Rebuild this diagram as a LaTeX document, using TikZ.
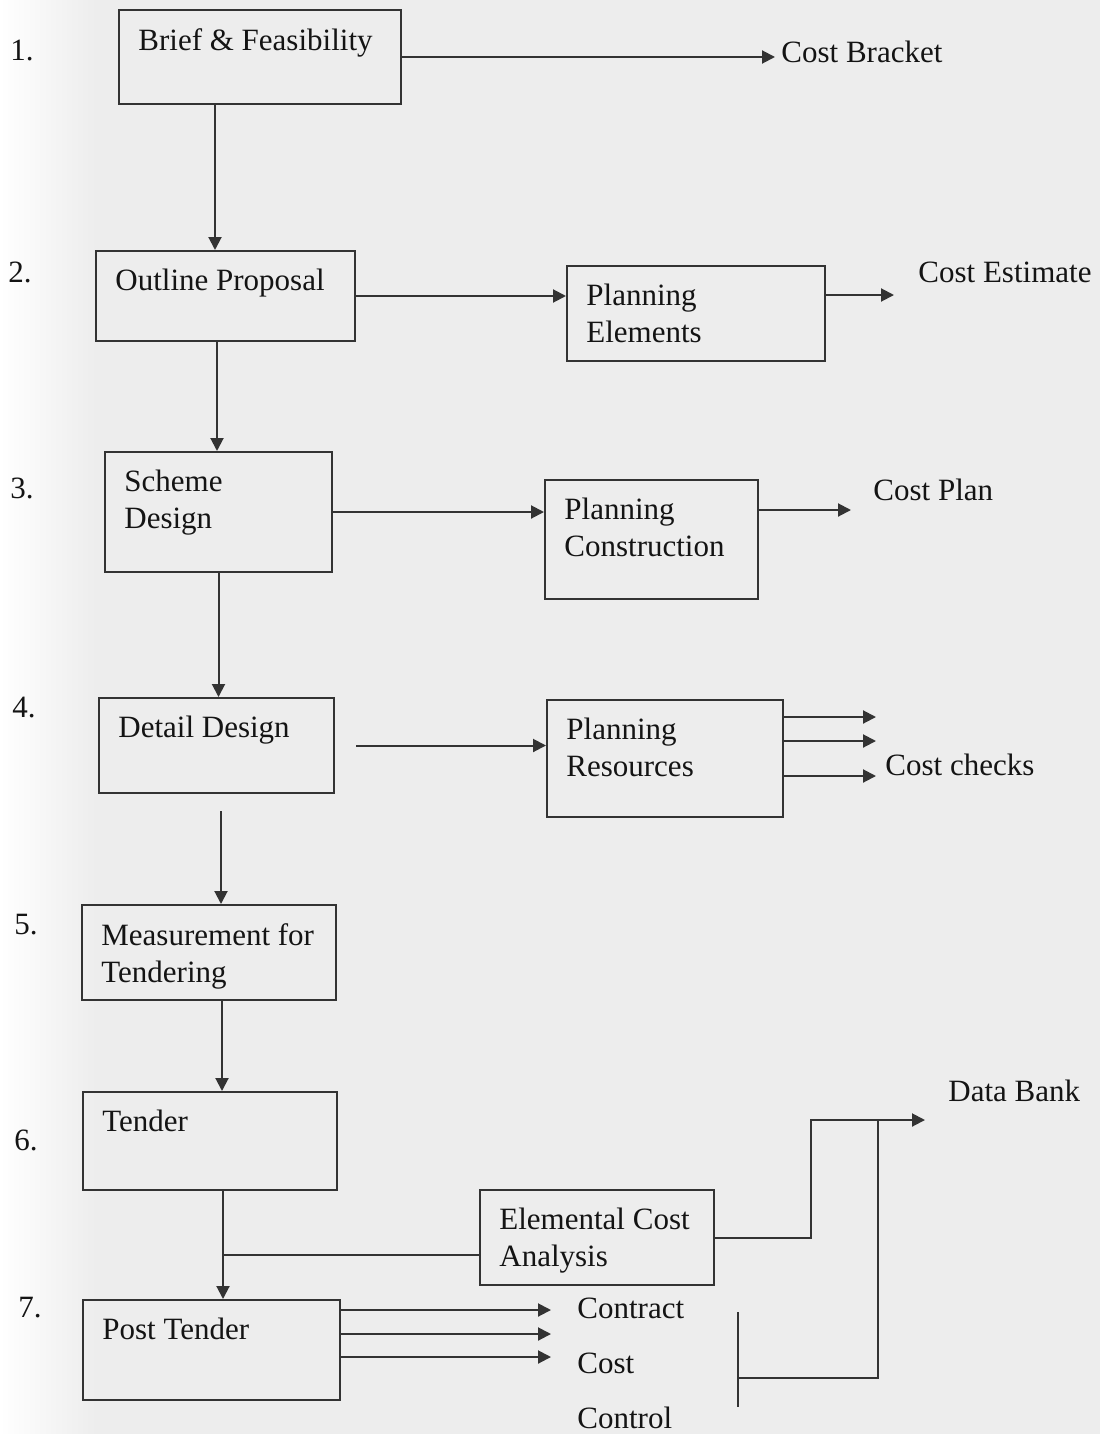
\documentclass[tikz,border=0pt]{standalone}
\usepackage{fontspec}
\setmainfont{Liberation Serif}
\usetikzlibrary{arrows.meta,calc}

\tikzset{
  stage/.style={draw=black!80, line width=1pt, inner sep=0pt},
  stagetext/.style={anchor=north west, inner sep=0pt, align=left,
    xshift=10pt, yshift=-9.4pt, text=black!92,
    font=\fontsize{15.5}{18.5}\selectfont},
  outtext/.style={anchor=west, inner sep=0pt, text=black!92,
    font=\fontsize{15.5}{18.5}\selectfont},
  flow/.style={draw=black!80, line width=1pt, -{Triangle[length=6.5pt,width=6.5pt]}},
  plain/.style={draw=black!80, line width=1pt},
}

\begin{document}
\begin{tikzpicture}[x=0.5pt, y=-0.5pt]
    \useasboundingbox (0,0) rectangle (1100,1434);
    \fill[black!7] (0,0) rectangle (1100,1434);
    \shade[left color=white, right color=black!7] (0,0) rectangle (95,1434);

    % stage numbers
    \node[outtext] (n1) at (10,  50) {1.};
    \node[outtext] (n2) at (8,  272) {2.};
    \node[outtext] (n3) at (10, 488) {3.};
    \node[outtext] (n4) at (12, 708) {4.};
    \node[outtext] (n5) at (14, 925) {5.};
    \node[outtext] (n6) at (14,1140) {6.};
    \node[outtext] (n7) at (18,1308) {7.};

    % main stages
    \node[stage, minimum width=141pt, minimum height=47pt,
      label={[stagetext]north west:Brief \& Feasibility}] (brief) at (260,57) {};
    \node[stage, minimum width=129.5pt, minimum height=45pt,
      label={[stagetext]north west:Outline Proposal}] (outline) at (225.5,296) {};
    \node[stage, minimum width=113.5pt, minimum height=60pt,
      label={[stagetext]north west:Scheme\\Design}] (scheme) at (218.5,512) {};
    \node[stage, minimum width=117.5pt, minimum height=47.5pt,
      label={[stagetext]north west:Detail Design}] (detail) at (216.5,745.5) {};
    \node[stage, minimum width=127pt, minimum height=47.5pt,
      label={[stagetext]north west:Measurement for\\Tendering}] (measure) at (209,952.5) {};
    \node[stage, minimum width=127pt, minimum height=49pt,
      label={[stagetext]north west:Tender}] (tender) at (210,1141) {};
    \node[stage, minimum width=128.5pt, minimum height=50pt,
      label={[stagetext]north west:Post Tender}] (post) at (211.5,1350) {};

    % planning boxes
    \node[stage, minimum width=129pt, minimum height=47.5pt,
      label={[stagetext]north west:Planning\\Elements}] (elements) at (696,313.5) {};
    \node[stage, minimum width=106.5pt, minimum height=59.5pt,
      label={[stagetext]north west:Planning\\Construction}] (construct) at (651.5,539.5) {};
    \node[stage, minimum width=118pt, minimum height=58.5pt,
      label={[stagetext]north west:Planning\\Resources}] (resources) at (665,758.5) {};
    \node[stage, minimum width=117pt, minimum height=47.5pt,
      label={[stagetext]north west:Elemental Cost\\Analysis}] (analysis) at (597,1237.5) {};

    % outputs
    \node[outtext] (bracket)  at (781,  52) {Cost Bracket};
    \node[outtext] (estimate) at (918, 272) {Cost Estimate};
    \node[outtext] (costplan) at (873, 490) {Cost Plan};
    \node[outtext] (checks)   at (885, 765) {Cost checks};
    \node[outtext] (databank) at (948,1091) {Data Bank};
    \node[outtext] (contract) at (577,1308) {Contract};
    \node[outtext] (cost)     at (577,1363) {Cost};
    \node[outtext] (control)  at (577,1418) {Control};

    % down the stages
    \draw[flow] ([shift={(-45,0)}]brief.south) -- ([shift={(-45,0)}]brief.south |- outline.north);
    \draw[flow] ([shift={(-8.5,0)}]outline.south) -- ([shift={(-8.5,0)}]outline.south |- scheme.north);
    \draw[flow] (scheme.south) -- (scheme.south |- detail.north);
    \draw[flow] ([shift={(4.5,17)}]detail.south) -- ([shift={(4.5,0)}]detail.south |- measure.north);
    \draw[flow] ([shift={(13,0)}]measure.south) -- ([shift={(13,0)}]measure.south |- tender.north);
    \draw[flow] ([shift={(13,0)}]tender.south) -- ([shift={(13,0)}]tender.south |- post.north);

    % across to planning and costs
    \draw[flow] (brief.east) -- ([xshift=-3pt]brief.east -| bracket.west);
    \draw[flow] (outline.east) -- (outline.east -| elements.west);
    \draw[flow] ([shift={(0,-18.5)}]elements.east) -- ++(68,0);
    \draw[flow] (scheme.east) -- (scheme.east -| construct.west);
    \draw[flow] ([shift={(0,-29.5)}]construct.east) -- ++(92,0);
    \draw[flow] ([shift={(21,0)}]detail.east) -- (detail.east -| resources.west);
    \draw[flow] ([shift={(0,-41.5)}]resources.east) -- ++(92,0);
    \draw[flow] ([shift={(0,-17.5)}]resources.east) -- ++(92,0);
    \draw[flow] ([shift={(0,17.5)}]resources.east) -- ++(92,0);

    % post tender
    \path ([shift={(0,17.5)}]analysis.west) coordinate (ecain);
    \draw[plain] (ecain) -- ([shift={(13,0)}]tender.south |- ecain);
    \draw[flow] ([shift={(0,-40)}]post.east) -- ++(210,0);
    \draw[flow] ([shift={(0,-16)}]post.east) -- ++(210,0);
    \draw[flow] ([shift={(0,7)}]post.east) -- ++(210,0);

    \coordinate (banktip) at (925,1120);
    \draw[flow] (analysis.east) -- ++(96,0) |- (banktip);
    \coordinate (bktop) at (878,1120);
    \coordinate (ctltop) at (738,1312);
    \coordinate (ctlbot) at (738,1407);
    \draw[plain] (bktop) -- (878,1378) -- (738,1378);
    \draw[plain] (ctltop) -- (ctlbot);
\end{tikzpicture}
\end{document}
